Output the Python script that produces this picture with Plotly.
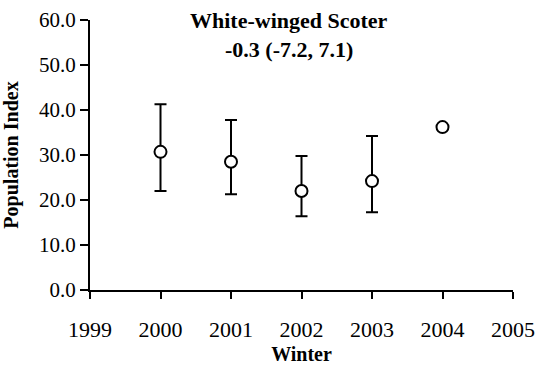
import plotly.graph_objects as go

# Winter survey population index with 90% CI
winters = [2000, 2001, 2002, 2003, 2004]
index_vals = [30.7, 28.5, 22.0, 24.2, 36.2]
upper_ci = [41.3, 37.8, 29.8, 34.2, None]
lower_ci = [22.0, 21.3, 16.4, 17.3, None]

x_ticks = [1999, 2000, 2001, 2002, 2003, 2004, 2005]
y_ticks = [0, 10, 20, 30, 40, 50, 60]

title_line1 = "White-winged Scoter"
title_line2 = "-0.3 (-7.2, 7.1)"

err_plus = [(u - v) if u is not None else None for u, v in zip(upper_ci, index_vals)]
err_minus = [(v - l) if l is not None else None for l, v in zip(lower_ci, index_vals)]

serif = "Liberation Serif"

fig = go.Figure()
fig.add_trace(go.Scatter(
    x=winters, y=index_vals, mode="markers",
    marker=dict(symbol="circle", size=12, color="white",
                line=dict(color="black", width=2)),
    error_y=dict(type="data", symmetric=False, array=err_plus,
                 arrayminus=err_minus, color="black", thickness=2, width=6),
    showlegend=False,
))

fig.update_layout(
    width=538, height=365,
    margin=dict(l=90, r=25, t=20, b=75),
    paper_bgcolor="white", plot_bgcolor="white",
    font=dict(family=serif, size=21, color="black"),
    xaxis=dict(
        range=[1999, 2005], tickvals=x_ticks, ticktext=[str(t) for t in x_ticks],
        showgrid=False, zeroline=False, showline=True, linecolor="black",
        linewidth=2, ticks="outside", ticklen=7, tickwidth=2, tickcolor="black",
        ticklabelstandoff=12, tickfont=dict(size=22), automargin=False,
        title=dict(text="<b>Winter</b>", font=dict(size=20)),
    ),
    yaxis=dict(
        range=[0, 60], tickvals=y_ticks, ticktext=[f"{t:.1f}" for t in y_ticks],
        showgrid=False, zeroline=False, showline=True, linecolor="black",
        linewidth=2, ticks="outside", ticklen=8, tickwidth=2, tickcolor="black",
        tickfont=dict(size=21), automargin=False,
        title=dict(text="<b>Population Index</b>", font=dict(size=20)),
    ),
)
title_x = (289 - 90) / (538 - 90 - 25)
fig.add_annotation(text=f"<b>{title_line1}</b>", x=title_x, xref="paper",
                   y=1.0, yref="paper", yanchor="middle", showarrow=False,
                   font=dict(size=22))
fig.add_annotation(text=f"<b>{title_line2}</b>", x=title_x, xref="paper",
                   y=0.89, yref="paper", yanchor="middle", showarrow=False,
                   font=dict(size=22))

fig.write_html("out.html")
